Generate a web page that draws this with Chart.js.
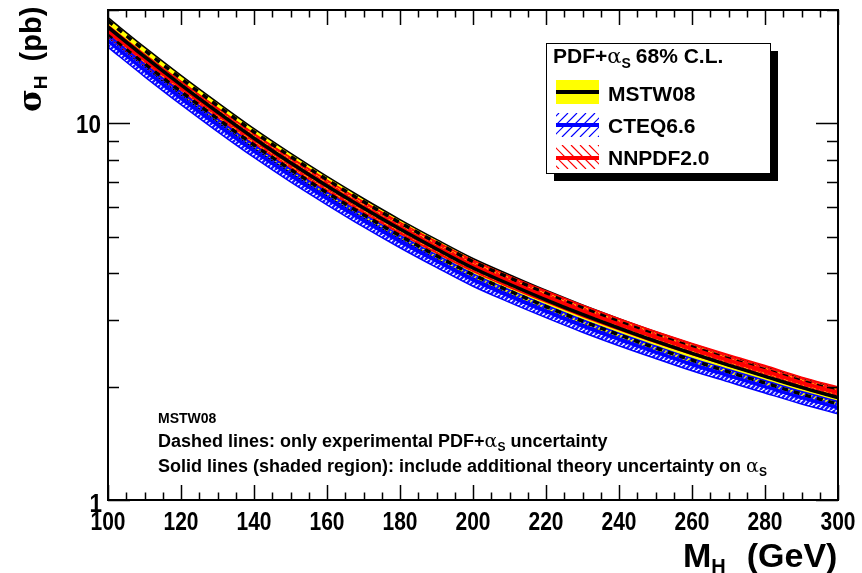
<!DOCTYPE html>
<html>
<head>
<meta charset="utf-8">
<script src="https://cdn.jsdelivr.net/npm/chart.js@4.4.0/dist/chart.umd.min.js"></script>
<style>
  html, body { margin: 0; padding: 0; background: #fff; }
  canvas { display: block; }
</style>
</head>
<body>
<canvas id="xsec" width="862" height="573"></canvas>
<script>
// Higgs mass points (GeV)
const massPoints = [100, 110, 120, 130, 140, 150, 160, 170, 180, 190, 200,
                    210, 220, 230, 240, 250, 260, 270, 280, 290, 300];

// central cross sections (pb)
const mstwCentral = [18.0, 15.03, 12.65, 10.72, 9.13, 7.86, 6.82, 5.96, 5.24, 4.64, 4.13,
                     3.74, 3.40, 3.11, 2.86, 2.64, 2.45, 2.28, 2.13, 1.99, 1.87];
const cteqCentral = [16.56, 13.84, 11.66, 9.89, 8.44, 7.27, 6.32, 5.52, 4.86, 4.31, 3.84,
                     3.48, 3.17, 2.90, 2.67, 2.47, 2.29, 2.14, 2.00, 1.87, 1.76];
const nnpdfCentral = [17.60, 14.78, 12.50, 10.63, 9.09, 7.85, 6.84, 5.99, 5.28, 4.69, 4.19,
                      3.80, 3.47, 3.18, 2.93, 2.71, 2.52, 2.35, 2.20, 2.05, 1.93];

// relative PDF+alpha_s uncertainties
const mstwTotalErr = 0.060;   // incl. theory uncertainty on alpha_s
const mstwExpErr = 0.040;     // experimental only
const cteqErr = 0.038;
const nnpdfErr = 0.034;

const xTicks = [100, 120, 140, 160, 180, 200, 220, 240, 260, 280, 300];

function shifted(central, frac) {
    return massPoints.map((m, i) => ({ x: m, y: central[i] * (1 + frac) }));
}

// hatch fill like ROOT fill styles
function hatch(color, dir, size, width) {
    const c = document.createElement('canvas');
    c.width = size; c.height = size;
    const g = c.getContext('2d');
    g.strokeStyle = color;
    g.lineWidth = width;
    g.beginPath();
    for (let k = -1; k <= 1; k++) {
        if (dir > 0) {
            g.moveTo(k * size, size);
            g.lineTo(k * size + size, 0);
        } else {
            g.moveTo(k * size, 0);
            g.lineTo(k * size + size, size);
        }
    }
    g.stroke();
    return g.createPattern(c, 'repeat');
}

const bluePattern = hatch('#1515ff', 1, 5, 2.4);
const redPattern = hatch('#ff1010', -1, 4, 2.8);

const line = (data, color, width, extra) => Object.assign({
    data: data,
    borderColor: color,
    borderWidth: width,
    pointRadius: 0,
    fill: false,
    cubicInterpolationMode: 'monotone'
}, extra || {});

const datasets = [
    // MSTW08 total band (yellow)
    line(shifted(mstwCentral, mstwTotalErr), '#000', 1.5, { fill: '+1', backgroundColor: '#ffff00', order: 20 }),
    line(shifted(mstwCentral, -mstwTotalErr), '#000', 1.5, { order: 19 }),
    // NNPDF2.0 band
    line(shifted(nnpdfCentral, nnpdfErr), '#ff0000', 1.5, { fill: '+1', backgroundColor: redPattern, order: 18 }),
    line(shifted(nnpdfCentral, -nnpdfErr), '#ff0000', 1.5, { order: 17 }),
    // CTEQ6.6 band
    line(shifted(cteqCentral, cteqErr), '#0000ff', 1.5, { fill: '+1', backgroundColor: bluePattern, order: 16 }),
    line(shifted(cteqCentral, -cteqErr), '#0000ff', 1.5, { order: 15 }),
    // MSTW08 experimental-only (dashed)
    line(shifted(mstwCentral, mstwExpErr), '#000', 3.5, { borderDash: [6, 6], order: 8 }),
    line(shifted(mstwCentral, -mstwExpErr), '#000', 3.5, { borderDash: [6, 6], order: 7 }),
    // central values
    line(shifted(cteqCentral, 0), '#0000ff', 3.5, { order: 5 }),
    line(shifted(nnpdfCentral, 0), '#ff0000', 3.5, { order: 4 }),
    line(shifted(mstwCentral, 0), '#000', 3.5, { order: 3 })
];

function drawRuns(ctx, x, y, runs) {
    for (const r of runs) {
        ctx.font = r.font;
        ctx.fillText(r.text, x, y + (r.dy || 0));
        x += ctx.measureText(r.text).width + (r.gap || 0);
    }
    return x;
}

// squeezed text, the axis labels are narrower than plain bold sans
function narrowText(ctx, text, x, y, sx) {
    ctx.save();
    ctx.translate(x, y);
    ctx.scale(sx, 1);
    ctx.fillText(text, 0, 0);
    ctx.restore();
}

const BOLD = '"Liberation Sans", Arial, sans-serif';
const GREEK = '"DejaVu Serif", "Liberation Serif", serif';

const rootFrame = {
    id: 'rootFrame',
    afterDraw(chart) {
        const ctx = chart.ctx;
        const a = chart.chartArea;
        const xs = chart.scales.x, ys = chart.scales.y;
        ctx.save();
        ctx.strokeStyle = '#000';
        ctx.fillStyle = '#000';

        // frame
        ctx.lineWidth = 2;
        ctx.strokeRect(a.left, a.top, a.right - a.left, a.bottom - a.top);

        // x ticks on bottom and top
        ctx.lineWidth = 1.5;
        ctx.beginPath();
        for (let m = 100; m <= 300; m += 5) {
            const px = Math.round(xs.getPixelForValue(m)) + 0.5;
            const len = m % 20 === 0 ? 15 : 7.5;
            ctx.moveTo(px, a.bottom); ctx.lineTo(px, a.bottom - len);
            ctx.moveTo(px, a.top); ctx.lineTo(px, a.top + len);
        }
        // y ticks on left and right
        for (const v of [1, 2, 3, 4, 5, 6, 7, 8, 9, 10, 20]) {
            const py = Math.round(ys.getPixelForValue(v)) + 0.5;
            const len = (v === 1 || v === 10) ? 22 : 11;
            ctx.moveTo(a.left, py); ctx.lineTo(a.left + len, py);
            ctx.moveTo(a.right, py); ctx.lineTo(a.right - len, py);
        }
        ctx.stroke();

        // tick labels
        ctx.font = 'bold 25px ' + BOLD;
        ctx.textAlign = 'center';
        ctx.textBaseline = 'alphabetic';
        for (const m of xTicks) {
            narrowText(ctx, String(m), xs.getPixelForValue(m), 530, 0.84);
        }
        ctx.textAlign = 'right';
        narrowText(ctx, '10', 101, ys.getPixelForValue(10) + 10, 0.9);
        narrowText(ctx, '1', 102, ys.getPixelForValue(1) + 12, 0.9);

        // axis titles
        ctx.textAlign = 'left';
        drawRuns(ctx, 683, 567, [
            { text: 'M', font: 'bold 34px ' + BOLD },
            { text: 'H', font: 'bold 20px ' + BOLD, dy: 6, gap: 21 },
            { text: '(GeV)', font: 'bold 34px ' + BOLD }
        ]);
        ctx.save();
        ctx.translate(41, 112);
        ctx.rotate(-Math.PI / 2);
        drawRuns(ctx, 0, 0, [
            { text: 'σ', font: 'bold 31px ' + GREEK },
            { text: 'H', font: 'bold 19px ' + BOLD, dy: 6, gap: 14 },
            { text: '(pb)', font: 'bold 29px ' + BOLD }
        ]);
        ctx.restore();

        // legend box with shadow
        const bx = 546, by = 43, bw = 224, bh = 130;
        ctx.fillRect(bx + 8, by + 8, bw, bh);
        ctx.fillStyle = '#fff';
        ctx.fillRect(bx, by, bw, bh);
        ctx.lineWidth = 1;
        ctx.strokeRect(bx + 0.5, by + 0.5, bw, bh);
        ctx.fillStyle = '#000';
        drawRuns(ctx, 553, 63, [
            { text: 'PDF+', font: 'bold 21px ' + BOLD },
            { text: 'α', font: '21px ' + GREEK },
            { text: 'S', font: 'bold 14px ' + BOLD, dy: 5, gap: 5 },
            { text: '68% C.L.', font: 'bold 21px ' + BOLD }
        ]);

        // MSTW08 entry
        ctx.fillStyle = '#ffff00';
        ctx.fillRect(556, 80, 43, 24);
        ctx.fillStyle = '#000';
        ctx.fillRect(556, 90, 43, 4);
        // CTEQ6.6 entry
        ctx.save();
        ctx.beginPath();
        ctx.rect(556, 113, 43, 24);
        ctx.clip();
        ctx.strokeStyle = '#0000ff';
        ctx.lineWidth = 1.2;
        ctx.beginPath();
        for (let k = -30; k < 60; k += 9) {
            ctx.moveTo(556 + k, 137);
            ctx.lineTo(556 + k + 24, 113);
        }
        ctx.stroke();
        ctx.restore();
        ctx.fillStyle = '#0000ff';
        ctx.fillRect(556, 123, 43, 4);
        // NNPDF2.0 entry
        ctx.save();
        ctx.beginPath();
        ctx.rect(556, 145, 43, 24);
        ctx.clip();
        ctx.strokeStyle = '#ff0000';
        ctx.lineWidth = 1.2;
        ctx.beginPath();
        for (let k = -30; k < 60; k += 9) {
            ctx.moveTo(556 + k, 145);
            ctx.lineTo(556 + k + 24, 169);
        }
        ctx.stroke();
        ctx.restore();
        ctx.fillStyle = '#ff0000';
        ctx.fillRect(556, 156, 43, 4);

        ctx.fillStyle = '#000';
        ctx.font = 'bold 21px ' + BOLD;
        ctx.fillText('MSTW08', 608, 101);
        ctx.fillText('CTEQ6.6', 608, 133);
        ctx.fillText('NNPDF2.0', 608, 165);

        // note in lower left
        ctx.font = 'bold 14px ' + BOLD;
        ctx.fillText('MSTW08', 158, 423);
        drawRuns(ctx, 158, 447, [
            { text: 'Dashed lines: only experimental PDF+', font: 'bold 18px ' + BOLD },
            { text: 'α', font: '19px ' + GREEK },
            { text: 'S', font: 'bold 12px ' + BOLD, dy: 4, gap: 5 },
            { text: 'uncertainty', font: 'bold 18px ' + BOLD }
        ]);
        drawRuns(ctx, 158, 472, [
            { text: 'Solid lines (shaded region): include additional theory uncertainty on ', font: 'bold 18px ' + BOLD },
            { text: 'α', font: '19px ' + GREEK },
            { text: 'S', font: 'bold 12px ' + BOLD, dy: 4 }
        ]);
        ctx.restore();
    }
};

new Chart(
    document.getElementById('xsec'),
    {
        type: 'line',
        data: { datasets: datasets },
        options: {
            responsive: false,
            animation: false,
            devicePixelRatio: 1,
            layout: { padding: { left: 108, right: 24, top: 10, bottom: 73 } },
            scales: {
                x: { type: 'linear', min: 100, max: 300, display: false },
                y: { type: 'logarithmic', min: 1, max: 20, display: false }
            },
            plugins: {
                legend: { display: false },
                tooltip: { enabled: false }
            }
        },
        plugins: [rootFrame]
    }
);
</script>
</body>
</html>
